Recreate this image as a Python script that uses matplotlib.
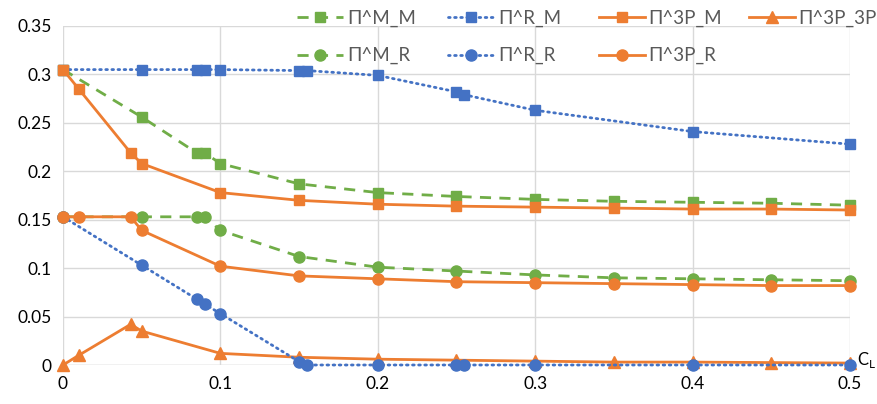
import matplotlib
matplotlib.use("Agg")
import matplotlib.pyplot as plt

plt.rcParams['font.family'] = ['Lato', 'DejaVu Sans']

# Data
x_MM = [0, 0.05, 0.085, 0.09, 0.1, 0.15, 0.2, 0.25, 0.3, 0.35, 0.4, 0.45, 0.5]
y_MM = [0.305, 0.256, 0.219, 0.219, 0.208, 0.187, 0.178, 0.174, 0.171, 0.169, 0.168, 0.167, 0.165]

x_RM = [0, 0.05, 0.085, 0.09, 0.1, 0.15, 0.155, 0.2, 0.25, 0.255, 0.3, 0.4, 0.5]
y_RM = [0.305, 0.305, 0.305, 0.305, 0.305, 0.304, 0.304, 0.299, 0.282, 0.279, 0.263, 0.241, 0.228]

x_3PM = [0, 0.01, 0.043, 0.05, 0.1, 0.15, 0.2, 0.25, 0.3, 0.35, 0.4, 0.45, 0.5]
y_3PM = [0.305, 0.285, 0.219, 0.208, 0.178, 0.170, 0.166, 0.164, 0.163, 0.162, 0.161, 0.161, 0.160]

x_3P3P = [0, 0.01, 0.043, 0.05, 0.1, 0.15, 0.2, 0.25, 0.3, 0.35, 0.4, 0.45, 0.5]
y_3P3P = [0.0, 0.010, 0.042, 0.035, 0.012, 0.008, 0.006, 0.005, 0.004, 0.003, 0.003, 0.0025, 0.002]

x_MR = [0, 0.05, 0.085, 0.09, 0.1, 0.15, 0.2, 0.25, 0.3, 0.35, 0.4, 0.45, 0.5]
y_MR = [0.153, 0.153, 0.153, 0.153, 0.139, 0.112, 0.101, 0.097, 0.093, 0.090, 0.089, 0.088, 0.087]

x_RR = [0, 0.05, 0.085, 0.09, 0.1, 0.15, 0.155, 0.2, 0.25, 0.255, 0.3, 0.4, 0.5]
y_RR = [0.153, 0.103, 0.068, 0.063, 0.053, 0.0035, 0.0, 0.0, 0.0, 0.0, 0.0, 0.0, 0.0]

x_3PR = [0, 0.01, 0.043, 0.05, 0.1, 0.15, 0.2, 0.25, 0.3, 0.35, 0.4, 0.45, 0.5]
y_3PR = [0.153, 0.153, 0.153, 0.139, 0.102, 0.092, 0.089, 0.086, 0.085, 0.084, 0.083, 0.082, 0.082]

labels = ['Π^M_M', 'Π^R_M', 'Π^3P_M', 'Π^3P_3P', 'Π^M_R', 'Π^R_R', 'Π^3P_R']
x_ticks = [0, 0.1, 0.2, 0.3, 0.4, 0.5]
x_tick_labels = ['0', '0.1', '0.2', '0.3', '0.4', '0.5']
y_ticks = [0, 0.05, 0.1, 0.15, 0.2, 0.25, 0.3, 0.35]
y_tick_labels = ['0', '0.05', '0.1', '0.15', '0.2', '0.25', '0.3', '0.35']

GREEN = '#70AD47'
BLUE = '#4472C4'
ORANGE = '#ED7D31'

fig = plt.figure(figsize=(8.78, 4.04), dpi=100)
ax = fig.add_axes([63/878, 1-365/404, (850-63)/878, (365-26)/404])

lw = 2.0
ms = 7.5
dashed = (0, (4, 3))
dotted = (0, (0.6, 1.6))

h = {}
h['Π^M_M'], = ax.plot(x_MM, y_MM, color=GREEN, lw=lw, ls=dashed, marker='s', ms=ms, label=labels[0])
h['Π^R_M'], = ax.plot(x_RM, y_RM, color=BLUE, lw=lw, ls=dotted, marker='s', ms=ms, label=labels[1], dash_capstyle='round')
h['Π^3P_M'], = ax.plot(x_3PM, y_3PM, color=ORANGE, lw=lw, ls='-', marker='s', ms=ms, label=labels[2])
h['Π^3P_3P'], = ax.plot(x_3P3P, y_3P3P, color=ORANGE, lw=lw, ls='-', marker='^', ms=ms+0.5, label=labels[3])
h['Π^M_R'], = ax.plot(x_MR, y_MR, color=GREEN, lw=lw, ls=dashed, marker='o', ms=ms+0.5, label=labels[4])
h['Π^R_R'], = ax.plot(x_RR, y_RR, color=BLUE, lw=lw, ls=dotted, marker='o', ms=ms+0.5, label=labels[5], dash_capstyle='round')
h['Π^3P_R'], = ax.plot(x_3PR, y_3PR, color=ORANGE, lw=lw, ls='-', marker='o', ms=ms+0.5, label=labels[6])

for ln in h.values():
    ln.set_clip_on(False)

ax.set_xlim(0, 0.5)
ax.set_ylim(0, 0.35)
ax.set_xticks(x_ticks)
ax.set_xticklabels(x_tick_labels)
ax.set_yticks(y_ticks)
ax.set_yticklabels(y_tick_labels)
ax.tick_params(length=0, labelsize=12.5, labelcolor='#000000', pad=8)
ax.grid(True, color='#D9D9D9', lw=1)
ax.set_axisbelow(True)
for s in ax.spines.values():
    s.set_visible(False)
ax.axhline(0, color='#D9D9D9', lw=1, zorder=0)

ax.text(1.009, 0.0, 'C$_{\\mathregular{L}}$', transform=ax.transAxes, fontsize=12,
        ha='left', va='baseline', color='#000000')

# legend: 4 columns placed at fixed positions
columns = [['Π^M_M', 'Π^M_R'], ['Π^R_M', 'Π^R_R'], ['Π^3P_M', 'Π^3P_R'], ['Π^3P_3P']]
col_x = [288, 439, 589.5, 739.5]
for cx, keys in zip(col_x, columns):
    leg = fig.legend([h[k] for k in keys], keys, ncol=1, loc='upper left',
                     bbox_to_anchor=(cx/878, 1.0), frameon=False, fontsize=13.5,
                     handlelength=2.45, handletextpad=0.2,
                     labelspacing=1.09, borderaxespad=0.1)
    for t in leg.get_texts():
        t.set_color('#595959')

fig.savefig('out.png', dpi=100)
